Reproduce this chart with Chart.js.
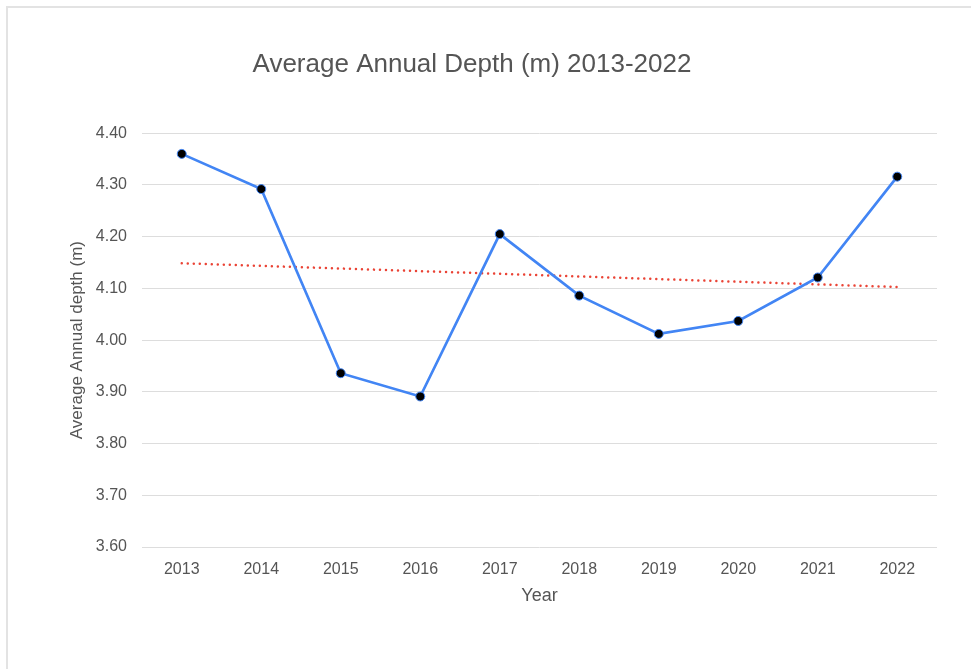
<!DOCTYPE html>
<html>
<head>
<meta charset="utf-8">
<script src="https://cdn.jsdelivr.net/npm/chart.js@4"></script>
<style>
    html, body { margin: 0; padding: 0; background: #fff; }
    #frame {
        position: absolute; left: 6px; top: 6px; width: 980px; height: 680px;
        border-top: 2px solid #e3e3e3; border-left: 2px solid #e3e3e3;
        box-sizing: border-box;
    }
    #wrap { position: absolute; left: 0; top: 0; width: 971px; height: 669px; }
</style>
</head>
<body>
<div id="frame"></div>
<div id="wrap"><canvas id="depth"></canvas></div>
<script>
const years = ['2013', '2014', '2015', '2016', '2017', '2018', '2019', '2020', '2021', '2022'];
const depth = [4.36, 4.292, 3.936, 3.891, 4.205, 4.086, 4.012, 4.037, 4.121, 4.316];
const yTicks = [3.6, 3.7, 3.8, 3.9, 4.0, 4.1, 4.2, 4.3, 4.4];

// least squares trendline over the yearly values
const n = depth.length;
const mx = (n - 1) / 2;
const my = depth.reduce((a, b) => a + b, 0) / n;
let sxy = 0, sxx = 0;
depth.forEach((v, i) => { sxy += (i - mx) * (v - my); sxx += (i - mx) * (i - mx); });
const slope = sxy / sxx;
const trend = depth.map((v, i) => my + slope * (i - mx));

const textColor = '#555';
const font = 'Arial, "Liberation Sans", sans-serif';

const ctx = document.getElementById('depth').getContext('2d');
const myChart = new Chart(ctx, {
    type: 'line',
    data: {
        labels: years,
        datasets: [{
            label: 'Trend',
            data: trend,
            borderColor: '#ea4335',
            borderWidth: 2.5,
            borderDash: [0.01, 6],
            borderCapStyle: 'round',
            pointRadius: 0,
            fill: false,
            order: 2
        }, {
            label: 'Average Annual depth (m)',
            data: depth,
            borderColor: '#4285f4',
            borderWidth: 2.7,
            pointRadius: 4.5,
            pointBackgroundColor: '#000',
            pointBorderColor: '#4285f4',
            pointBorderWidth: 1,
            fill: false,
            order: 1
        }]
    },
    options: {
        responsive: true,
        maintainAspectRatio: false,
        animation: false,
        layout: { padding: { left: 7, right: 34, top: 0, bottom: 62 } },
        scales: {
            x: {
                offset: true,
                afterFit: (scale) => { scale.height = 60; },
                grid: { display: false, drawTicks: false },
                border: { display: false },
                ticks: { color: textColor, padding: 13, font: { family: font, size: 16 } },
                title: {
                    display: true, text: 'Year', color: textColor,
                    padding: { top: 0, bottom: 0 },
                    font: { family: font, size: 18 }
                }
            },
            y: {
                min: 3.6,
                max: 4.4,
                afterBuildTicks: (scale) => { scale.ticks = yTicks.map(v => ({ value: v })); },
                afterFit: (scale) => { scale.width = 135; },
                grid: { color: '#dddddd', lineWidth: 1, drawTicks: false },
                border: { display: false },
                ticks: {
                    color: textColor, padding: 15,
                    font: { family: font, size: 16 },
                    callback: (v) => Number(v).toFixed(2)
                },
                title: {
                    display: true, text: 'Average Annual depth (m)', color: textColor,
                    padding: { top: 60, bottom: 0 },
                    font: { family: font, size: 17 }
                }
            }
        },
        plugins: {
            legend: { display: false },
            tooltip: { enabled: false },
            title: {
                display: true,
                text: 'Average Annual Depth (m) 2013-2022',
                color: textColor,
                font: { family: font, size: 26, weight: 'normal' },
                padding: { top: 49, bottom: 53 }
            }
        }
    }
});
</script>
</body>
</html>
